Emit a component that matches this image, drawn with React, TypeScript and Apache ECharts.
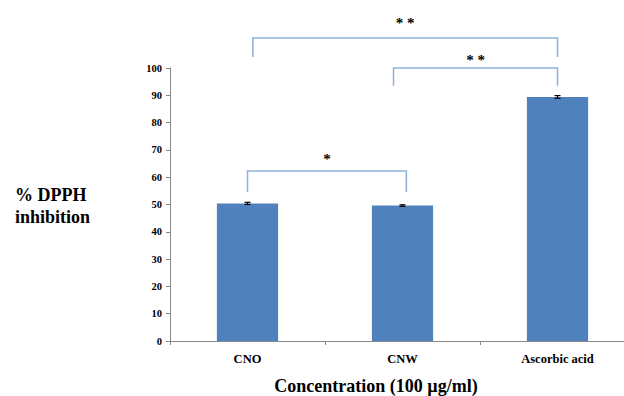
import React, { useEffect, useRef } from "react";
import * as echarts from "echarts";

const categories = ["CNO", "CNW", "Ascorbic acid"];
const values = [50.4, 49.6, 89.4];
const errors = [0.4, 0.3, 0.5];
const yTicks = [0, 10, 20, 30, 40, 50, 60, 70, 80, 90, 100];

// brackets: from category, to category, level value, left leg end, right leg end, label
const bracketFrom = [0, 1, 0];
const bracketTo = [2, 2, 1];
const bracketLevel = [111, 100, 62.3];
const bracketLegLeft = [104, 93.5, 54.6];
const bracketLegRight = [104, 93.5, 54.6];
const bracketLabels = ["* *", "* *", "*"];
const bracketLabelValue = [116.5, 103, 66.5];

const FONT = "'Liberation Serif', 'Times New Roman', serif";
const BAR_COLOR = "#4f81bd";
const BRACKET_COLOR = "#8eb1dc";
const AXIS_COLOR = "#888888";

export default function App() {
  const ref = useRef<HTMLDivElement>(null);
  useEffect(() => {
    if (!ref.current) return;
    const chart = echarts.init(ref.current, undefined, { renderer: "svg" });
    const leftOffsets = [0.035, -0.058, 0.0];
    const rightOffsets = [0.0, 0.0, 0.025];
    const bracketData = bracketFrom.map((f, k) => [
      f,
      bracketTo[k],
      bracketLevel[k],
      bracketLegLeft[k],
      bracketLegRight[k],
      bracketLabelValue[k],
      k,
    ]);
    chart.setOption({
      animation: false,
      grid: {
        left: 170,
        top: 68,
        width: 465,
        height: 273,
        containLabel: false,
        outerBoundsMode: "none",
      },
      xAxis: {
        type: "category",
        data: categories,
        axisLine: { lineStyle: { color: AXIS_COLOR, width: 1 } },
        axisTick: { show: true, length: 4, lineStyle: { color: AXIS_COLOR } },
        axisLabel: {
          fontFamily: FONT,
          fontWeight: "bold",
          fontSize: 12.5,
          color: "#000",
          margin: 11,
        },
      },
      yAxis: {
        type: "value",
        min: 0,
        max: 100,
        interval: 10,
        axisLine: { show: true, lineStyle: { color: AXIS_COLOR, width: 1 } },
        axisTick: { show: true, length: 4, lineStyle: { color: AXIS_COLOR } },
        splitLine: { show: false },
        axisLabel: {
          fontFamily: FONT,
          fontWeight: "bold",
          fontSize: 10.5,
          color: "#000",
          margin: 8,
          formatter: (v: number) => (yTicks.includes(v) ? String(v) : ""),
        },
      },
      series: [
        {
          type: "bar",
          data: values,
          barWidth: "39.5%",
          itemStyle: { color: BAR_COLOR },
          z: 2,
        },
        {
          type: "custom",
          z: 5,
          data: values.map((v, i) => [i, v, errors[i]]),
          renderItem: (params: any, api: any) => {
            const i = api.value(0);
            const v = api.value(1);
            const e = api.value(2);
            const hi = api.coord([i, v + e]);
            const lo = api.coord([i, v - e]);
            const w = 3;
            const st = { stroke: "#000", lineWidth: 1.2 };
            return {
              type: "group",
              children: [
                { type: "line", shape: { x1: hi[0], y1: hi[1], x2: lo[0], y2: lo[1] }, style: st },
                { type: "line", shape: { x1: hi[0] - w, y1: hi[1], x2: hi[0] + w, y2: hi[1] }, style: st },
                { type: "line", shape: { x1: lo[0] - w, y1: lo[1], x2: lo[0] + w, y2: lo[1] }, style: st },
              ],
            };
          },
        },
        {
          type: "custom",
          z: 6,
          clip: false,
          data: bracketData,
          renderItem: (params: any, api: any) => {
            const f = api.value(0);
            const t = api.value(1);
            const lvl = api.value(2);
            const ll = api.value(3);
            const lr = api.value(4);
            const lab = api.value(5);
            const k = api.value(6);
            const band = api.size([1, 0])[0];
            const pL = api.coord([f, lvl]);
            const pR = api.coord([t, lvl]);
            const xL = pL[0] + leftOffsets[k] * band;
            const xR = pR[0] + rightOffsets[k] * band;
            const yLL = api.coord([f, ll])[1];
            const yLR = api.coord([t, lr])[1];
            const yLab = api.coord([f, lab])[1];
            return {
              type: "group",
              children: [
                {
                  type: "polyline",
                  shape: { points: [[xL, yLL], [xL, pL[1]], [xR, pL[1]], [xR, yLR]] },
                  style: { stroke: BRACKET_COLOR, lineWidth: 1.5, fill: "none" },
                },
                {
                  type: "text",
                  x: (xL + xR) / 2,
                  y: yLab,
                  style: {
                    text: bracketLabels[k],
                    fontFamily: FONT,
                    fontWeight: "bold",
                    fontSize: 15,
                    fill: "#000",
                    align: "center",
                    verticalAlign: "middle",
                  },
                },
              ],
            };
          },
        },
      ],
      graphic: [
        {
          type: "text",
          left: 15,
          top: 184,
          style: {
            text: "% DPPH\ninhibition",
            fontFamily: FONT,
            fontWeight: "bold",
            fontSize: 18,
            lineHeight: 22,
            fill: "#000",
          },
        },
        {
          type: "text",
          x: 376,
          y: 386,
          style: {
            text: "Concentration (100 µg/ml)",
            fontFamily: FONT,
            fontWeight: "bold",
            fontSize: 18,
            fill: "#000",
            align: "center",
            verticalAlign: "middle",
          },
        },
      ],
    });
    return () => chart.dispose();
  }, []);
  return (
    <div
      ref={ref}
      style={{ position: "absolute", left: 0, top: 0, width: 624, height: 396, overflow: "hidden" }}
    />
  );
}
